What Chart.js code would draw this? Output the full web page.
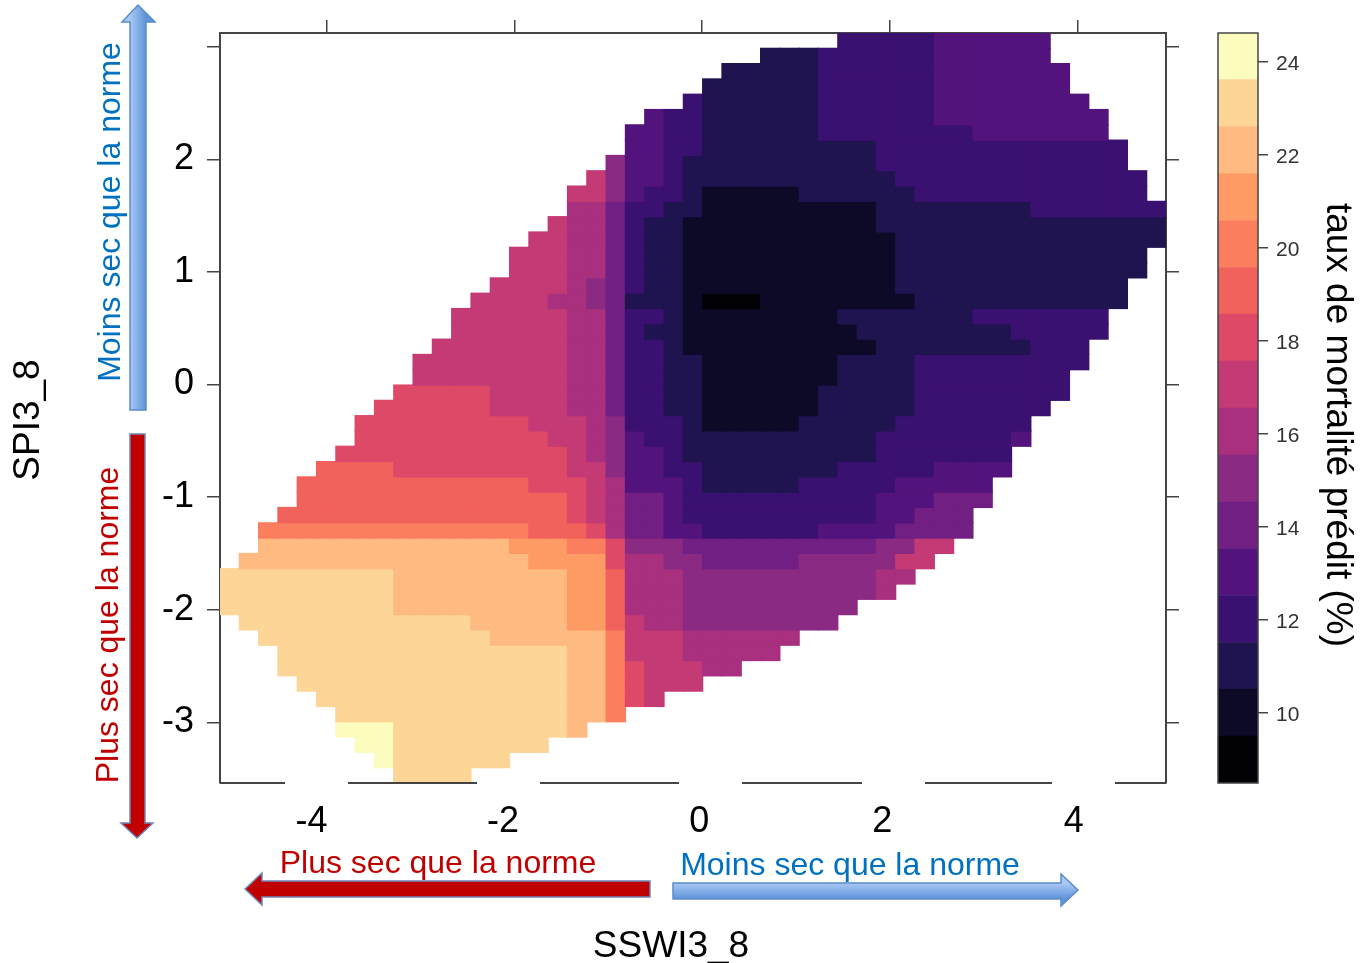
<!DOCTYPE html>
<html>
<head>
<meta charset="utf-8">
<title>taux de mortalité prédit</title>
<script src="https://cdn.jsdelivr.net/npm/chart.js@4"></script>
<style>
  html, body { margin: 0; padding: 0; background: #fff; }
  #myChart { position: absolute; left: 0; top: 0; }
  #colorKey { position: absolute; left: 1190px; top: 0; }
</style>
</head>
<body>
<canvas id="myChart" width="1361" height="963"></canvas>
<canvas id="colorKey" width="171" height="963"></canvas>
<script>
var xTickValues = [-4, -2, 0, 2, 4];
var xTickLabels = ["-4", "-2", "0", "2", "4"];
var xLabelAnchors = [-4.16, -2.12, -0.03, 1.92, 3.96];
var yTickValues = [-3, -2, -1, 0, 1, 2, 3];
var yTickLabels = ["-3", "-2", "-1", "0", "1", "2", ""];
var keyTickValues = [10, 12, 14, 16, 18, 20, 22, 24];

// predicted values shown in the key, and their colours
var levels = [9, 10, 11, 12, 13, 14, 15, 16, 17, 18, 19, 20, 21, 22, 23, 24];
var levelColors = [
  "#020206", "#0c0a26", "#1f144f", "#3a1070",
  "#52147c", "#711f82", "#8b2a82", "#a8307e",
  "#c43a74", "#de4968", "#f2625c", "#fb7f5e",
  "#fe9a64", "#feba80", "#fdd596", "#fdfcbf",
];
var levelBreaks = [8.5, 9.51, 10.52, 11.52, 12.53, 13.54, 14.55, 15.55, 16.56,
  17.57, 18.58, 19.58, 20.59, 21.6, 22.61, 23.62, 24.62];

// grid, top row first:
// column, value, column, value, ... last column (exclusive)
var cellRuns = [
  [32,12,37,13,43],
  [28,11,31,12,37,13,43],
  [26,11,31,12,37,13,44],
  [25,11,31,12,37,13,44],
  [24,12,25,11,31,12,37,13,45],
  [22,13,23,12,25,11,31,12,37,13,46],
  [21,13,23,12,25,11,31,12,39,13,46],
  [21,13,23,12,25,11,34,12,47],
  [20,15,21,13,23,12,24,11,34,12,47],
  [19,17,20,15,21,13,23,12,24,11,35,12,48],
  [18,17,20,15,21,13,22,12,24,11,25,10,30,11,36,12,48],
  [18,16,20,14,21,12,23,11,25,10,34,11,42,12,49],
  [17,17,18,16,20,14,21,12,22,11,24,10,34,11,49],
  [16,17,18,16,20,14,21,12,22,11,24,10,35,11,49],
  [15,17,18,16,20,14,21,12,22,11,24,10,35,11,48],
  [15,17,18,16,20,14,21,12,22,11,24,10,35,11,48],
  [14,17,18,16,19,15,20,14,21,12,22,11,24,10,35,11,47],
  [13,17,17,16,19,15,20,14,21,11,24,10,25,9,28,10,36,11,47],
  [12,17,18,16,20,14,21,12,23,11,24,10,32,11,39,12,46],
  [12,17,18,16,20,14,21,12,22,11,24,10,33,11,41,12,46],
  [11,17,18,16,20,14,21,12,23,11,24,10,34,11,42,12,45],
  [10,17,18,16,20,14,21,12,23,11,25,10,32,11,36,12,45],
  [10,17,18,16,20,14,21,12,23,11,25,10,32,11,36,12,44],
  [9,18,14,17,18,16,20,14,21,12,23,11,25,10,31,11,36,12,44],
  [8,18,14,17,18,16,20,14,21,12,23,11,25,10,31,11,36,12,43],
  [7,18,16,17,19,16,20,15,21,12,24,11,25,10,30,11,35,12,42],
  [7,18,17,17,19,16,20,15,21,13,22,12,24,11,34,12,41,13,42],
  [6,18,18,17,19,16,20,15,21,13,23,12,24,11,34,12,41],
  [5,19,9,18,18,17,20,15,21,13,23,12,25,11,32,12,37,13,41],
  [4,19,16,18,19,17,20,16,21,13,24,12,25,11,30,12,35,13,40],
  [4,19,18,18,19,17,20,16,21,14,23,13,24,12,34,13,37,14,40],
  [3,19,18,18,19,17,20,16,21,14,23,13,24,12,34,13,36,14,39],
  [2,20,16,19,19,18,20,16,21,14,23,13,25,12,31,13,35,14,39],
  [2,22,15,21,18,20,20,18,21,15,24,14,34,15,36,17,38],
  [1,22,16,21,20,18,21,16,23,15,25,14,30,15,35,17,37],
  [0,23,9,22,18,21,20,19,21,16,24,15,34,16,36],
  [0,23,9,22,18,21,20,19,21,16,24,15,34,16,35],
  [0,23,9,22,18,21,20,19,21,16,24,15,33],
  [1,23,13,22,18,21,20,19,21,17,22,16,24,15,32],
  [2,23,14,22,20,20,21,17,24,16,30],
  [3,23,18,22,20,20,21,17,24,16,29],
  [3,23,18,22,20,20,21,18,22,17,25,16,27],
  [4,23,18,22,20,20,21,18,22,17,25],
  [5,23,18,22,20,20,21,18,22,17,23],
  [6,23,18,22,20,20,21],
  [6,24,9,23,18,22,19],
  [7,24,9,23,17],
  [8,24,9,23,15],
  [9,23,13],
];

var xMin = -5.136, xMax = 4.944, yMin = -3.539, yMax = 3.122;
var gridCols = 49, gridRows = 49;
var axisColor = "#444";

var xStep = (xMax - xMin) / gridCols;
var yStep = (yMax - yMin) / gridRows;

// one floating-bar dataset per grid row
var rowDatasets = cellRuns.map(function (runs, r) {
  var data = [], colors = [];
  for (var i = 0; i + 1 < runs.length; i += 2) {
    for (var c = runs[i]; c < runs[i + 2]; c++) {
      data.push({
        x: xMin + (c + 0.5) * xStep,
        y: [yMax - (r + 1) * yStep, yMax - r * yStep],
      });
      colors.push(levelColors[levels.indexOf(runs[i + 1])]);
    }
  }
  return { data: data, backgroundColor: colors, xAxisID: "x", yAxisID: "y" };
});

function tickList(values) {
  return function (axis) {
    axis.ticks = values.map(function (v) { return { value: v }; });
  };
}

function arrowPath(ctx, pts) {
  ctx.beginPath();
  pts.forEach(function (p, i) { i ? ctx.lineTo(p[0], p[1]) : ctx.moveTo(p[0], p[1]); });
  ctx.closePath();
}

function drawArrow(ctx, pts, fill, stroke) {
  ctx.save();
  arrowPath(ctx, pts);
  ctx.fillStyle = fill;
  ctx.fill();
  ctx.lineWidth = 1.5;
  ctx.strokeStyle = stroke;
  ctx.stroke();
  ctx.restore();
}

function blueFill(ctx, x0, y0, x1, y1) {
  var g = ctx.createLinearGradient(x0, y0, x1, y1);
  g.addColorStop(0, "#a9c8f2");
  g.addColorStop(0.5, "#84aee8");
  g.addColorStop(1, "#5f92d8");
  return g;
}

var overlayTexts = [
  { text: "SPI3_8", x: 29, y: 420, rot: -90, size: 37, color: "#000" },
  { text: "SSWI3_8", x: 671, y: 947, rot: 0, size: 37, color: "#000" },
  { text: "taux de mortalité prédit (%)", x: 1337, y: 425, rot: 90, size: 37, color: "#000" },
  { text: "Moins sec que la norme", x: 111, y: 212, rot: -90, size: 32, color: "#0070c0" },
  { text: "Plus sec que la norme", x: 109, y: 625, rot: -90, size: 32, color: "#c00000" },
  { text: "Plus sec que la norme", x: 438, y: 864, rot: 0, size: 32, color: "#c00000" },
  { text: "Moins sec que la norme", x: 850, y: 866, rot: 0, size: 32, color: "#0070c0" },
];

var bottomSegments = [[220, 285], [348, 477], [540, 679], [742, 862], [925, 1052], [1115, 1166]];

var decorations = {
  id: "decorations",
  afterDraw: function (chart) {
    var ctx = chart.ctx;
    var bottom = chart.chartArea.bottom;

    ctx.save();
    ctx.strokeStyle = axisColor;
    ctx.lineWidth = 2;
    bottomSegments.forEach(function (s) {
      ctx.beginPath();
      ctx.moveTo(s[0], bottom);
      ctx.lineTo(s[1], bottom);
      ctx.stroke();
    });
    ctx.restore();

    drawArrow(ctx, [[138,5],[155,22],[146,22],[146,410],[130,410],[130,22],[122,22]],
      blueFill(ctx, 130, 0, 146, 0), "#5b8cc8");
    drawArrow(ctx, [[137,838],[121,823],[130,823],[130,434],[145,434],[145,823],[153,823]],
      "#c00000", "#6f86b8");
    drawArrow(ctx, [[245,889],[262,873],[262,881],[650,881],[650,897],[262,897],[262,905]],
      "#c00000", "#6f86b8");
    drawArrow(ctx, [[1078,890],[1061,874],[1061,883],[673,883],[673,899],[1061,899],[1061,906]],
      blueFill(ctx, 0, 883, 0, 899), "#5b8cc8");

    overlayTexts.forEach(function (t) {
      ctx.save();
      ctx.translate(t.x, t.y);
      ctx.rotate(t.rot * Math.PI / 180);
      ctx.font = t.size + "px 'Liberation Sans'";
      ctx.fillStyle = t.color;
      ctx.textAlign = "center";
      ctx.textBaseline = "middle";
      ctx.fillText(t.text, 0, 0);
      ctx.restore();
    });
  },
};

var markAxis = {
  display: true,
  drawOnChartArea: false,
  drawTicks: true,
  tickLength: 13,
  offset: false,
  color: axisColor,
  lineWidth: 1.5,
};
var markBorder = { display: true, color: axisColor, width: 2 };

// the tick labels must not push the plot area around
function fixedSize(prop, size) {
  return function (s) {
    s[prop] = size;
    s.paddingTop = s.paddingBottom = s.paddingLeft = s.paddingRight = 0;
  };
}

new Chart("myChart", {
  type: "bar",
  data: { datasets: rowDatasets },
  plugins: [decorations],
  options: {
    responsive: false,
    animation: false,
    layout: { padding: 0 },
    datasets: { bar: { barPercentage: 1, categoryPercentage: 1, grouped: false, borderWidth: 0, inflateAmount: 0.6 } },
    plugins: { legend: { display: false }, tooltip: { enabled: false } },
    scales: {
      x: {
        type: "linear",
        position: "bottom",
        offset: false,
        min: xMin,
        max: xMax,
        grid: { display: false, drawTicks: false },
        border: { display: false },
        afterBuildTicks: tickList(xLabelAnchors),
        afterFit: fixedSize("height", 180),
        ticks: {
          autoSkip: false,
          maxRotation: 0,
          padding: 17,
          color: "#000",
          font: { family: "'Liberation Sans'", size: 36 },
          callback: function (v, i) { return xTickLabels[i]; },
        },
      },
      xTop: {
        type: "linear",
        position: "top",
        offset: false,
        min: xMin,
        max: xMax,
        grid: markAxis,
        border: markBorder,
        afterBuildTicks: tickList(xTickValues),
        afterFit: fixedSize("height", 33),
        ticks: { display: false },
      },
      y: {
        type: "linear",
        position: "left",
        min: yMin,
        max: yMax,
        grid: markAxis,
        border: markBorder,
        afterBuildTicks: tickList(yTickValues),
        afterFit: fixedSize("width", 220),
        ticks: {
          autoSkip: false,
          padding: 13,
          color: "#000",
          font: { family: "'Liberation Sans'", size: 36 },
          callback: function (v, i) { return yTickLabels[i]; },
        },
      },
      yRight: {
        type: "linear",
        position: "right",
        min: yMin,
        max: yMax,
        grid: markAxis,
        border: markBorder,
        afterBuildTicks: tickList(yTickValues),
        afterFit: fixedSize("width", 195),
        ticks: { display: false },
      },
    },
  },
});

var keyFrame = {
  id: "keyFrame",
  afterDraw: function (chart) {
    var a = chart.chartArea, ctx = chart.ctx;
    ctx.save();
    ctx.strokeStyle = axisColor;
    ctx.lineWidth = 1.5;
    ctx.strokeRect(a.left, a.top, a.right - a.left, a.bottom - a.top);
    ctx.restore();
  },
};

new Chart("colorKey", {
  type: "bar",
  data: {
    labels: ["key"],
    datasets: levels.map(function (v, i) {
      return { label: String(v), data: [[levelBreaks[i], levelBreaks[i + 1]]], backgroundColor: levelColors[i] };
    }),
  },
  plugins: [keyFrame],
  options: {
    responsive: false,
    animation: false,
    layout: { padding: { left: 28, top: 33, bottom: 180 } },
    datasets: { bar: { barPercentage: 1, categoryPercentage: 1, grouped: false, borderWidth: 0 } },
    plugins: { legend: { display: false }, tooltip: { enabled: false } },
    scales: {
      x: { display: false },
      y: {
        position: "right",
        min: levelBreaks[0],
        max: levelBreaks[levelBreaks.length - 1],
        grid: { display: true, drawOnChartArea: false, drawTicks: true, tickLength: 10, color: axisColor, lineWidth: 1.5 },
        border: { display: false },
        afterBuildTicks: tickList(keyTickValues),
        afterFit: function (s) { s.width = 103; },
        ticks: {
          padding: 8,
          labelOffset: 2,
          color: "#333",
          font: { family: "'Liberation Sans'", size: 21 },
        },
      },
    },
  },
});
</script>
</body>
</html>
